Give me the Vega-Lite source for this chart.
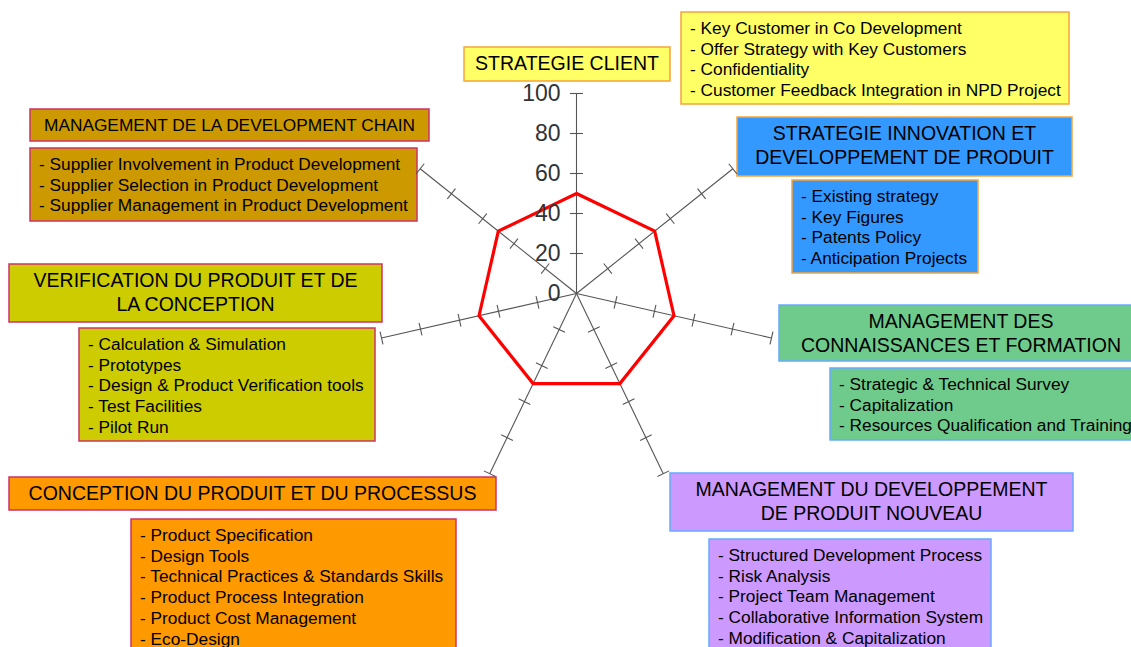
{
  "$schema": "https://vega.github.io/schema/vega-lite/v6.json",
  "width": 1131,
  "height": 647,
  "padding": 0,
  "autosize": {"type": "none"},
  "background": "white",
  "config": {"view": {"stroke": null}, "font": "Liberation Sans"},
  "datasets": {
    "axes": [
      {"k": 0, "axis": "STRATEGIE CLIENT", "value": 50, "ticks": [0, 20, 40, 60, 80, 100]},
      {"k": 1, "axis": "STRATEGIE INNOVATION ET DEVELOPPEMENT DE PRODUIT", "value": 50, "ticks": [0, 20, 40, 60, 80, 100]},
      {"k": 2, "axis": "MANAGEMENT DES CONNAISSANCES ET FORMATION", "value": 50, "ticks": [0, 20, 40, 60, 80, 100]},
      {"k": 3, "axis": "MANAGEMENT DU DEVELOPPEMENT DE PRODUIT NOUVEAU", "value": 50, "ticks": [0, 20, 40, 60, 80, 100]},
      {"k": 4, "axis": "CONCEPTION DU PRODUIT ET DU PROCESSUS", "value": 50, "ticks": [0, 20, 40, 60, 80, 100]},
      {"k": 5, "axis": "VERIFICATION DU PRODUIT ET DE LA CONCEPTION", "value": 50, "ticks": [0, 20, 40, 60, 80, 100]},
      {"k": 6, "axis": "MANAGEMENT DE LA DEVELOPMENT CHAIN", "value": 50, "ticks": [0, 20, 40, 60, 80, 100]}
    ],
    "boxes": [
      {"cat": "client", "kind": "h", "x1": -56.25, "x2": 46.75, "y1": 123.25, "y2": 106.25, "label": "STRATEGIE CLIENT"},
      {"cat": "client", "kind": "l", "x1": 52.25, "x2": 246.25, "y1": 140.75, "y2": 94.75, "label": "- Key Customer in Co Development\n- Offer Strategy with Key Customers\n- Confidentiality\n- Customer Feedback Integration in NPD Project"},
      {"cat": "chain", "kind": "h", "x1": -273.25, "x2": -73.75, "y1": 92.25, "y2": 76.25, "label": "MANAGEMENT DE LA DEVELOPMENT CHAIN"},
      {"cat": "chain", "kind": "l", "x1": -273.25, "x2": -79.75, "y1": 72.75, "y2": 36.25, "label": "- Supplier Involvement in Product Development\n- Supplier Selection in Product Development\n- Supplier Management in Product Development"},
      {"cat": "innovation", "kind": "h", "x1": 80.25, "x2": 247.75, "y1": 88.25, "y2": 58.75, "label": "STRATEGIE INNOVATION ET\nDEVELOPPEMENT DE PRODUIT"},
      {"cat": "innovation", "kind": "l", "x1": 107.75, "x2": 200.75, "y1": 56.75, "y2": 10.25, "label": "- Existing strategy\n- Key Figures\n- Patents Policy\n- Anticipation Projects"},
      {"cat": "verification", "kind": "h", "x1": -283.75, "x2": -97.25, "y1": 14.75, "y2": -14.25, "label": "VERIFICATION DU PRODUIT ET DE\nLA CONCEPTION"},
      {"cat": "verification", "kind": "l", "x1": -248.75, "x2": -100.75, "y1": -17.25, "y2": -73.75, "label": "- Calculation & Simulation\n- Prototypes\n- Design & Product Verification tools\n- Test Facilities\n- Pilot Run"},
      {"cat": "connaissances", "kind": "h", "x1": 101.25, "x2": 283.25, "y1": -5.75, "y2": -33.75, "label": "MANAGEMENT DES\nCONNAISSANCES ET FORMATION"},
      {"cat": "connaissances", "kind": "l", "x1": 126.75, "x2": 290, "y1": -37.25, "y2": -73.25, "label": "- Strategic & Technical Survey\n- Capitalization\n- Resources Qualification and Training"},
      {"cat": "conception", "kind": "h", "x1": -283.75, "x2": -40.25, "y1": -91.75, "y2": -108.25, "label": "CONCEPTION DU PRODUIT ET DU PROCESSUS"},
      {"cat": "conception", "kind": "l", "x1": -222.75, "x2": -60.25, "y1": -112.75, "y2": -190, "label": "- Product Specification\n- Design Tools\n- Technical Practices & Standards Skills\n- Product Process Integration\n- Product Cost Management\n- Eco-Design"},
      {"cat": "npd", "kind": "h", "x1": 46.75, "x2": 248.25, "y1": -89.75, "y2": -118.75, "label": "MANAGEMENT DU DEVELOPPEMENT\nDE PRODUIT NOUVEAU"},
      {"cat": "npd", "kind": "l", "x1": 66.25, "x2": 207.25, "y1": -122.75, "y2": -190, "label": "- Structured Development Process\n- Risk Analysis\n- Project Team Management\n- Collaborative Information System\n- Modification & Capitalization"}
    ]
  },
  "layer": [
    {
      "data": {"name": "boxes"},
      "mark": {"type": "rect", "strokeWidth": 1.5, "opacity": 1},
      "encoding": {
        "x": {"field": "x1", "type": "quantitative", "scale": {"domain": [-288.25, 277.25], "nice": false, "zero": false}, "axis": null},
        "x2": {"field": "x2"},
        "y": {"field": "y1", "type": "quantitative", "scale": {"domain": [-176.75, 146.75], "nice": false, "zero": false}, "axis": null},
        "y2": {"field": "y2"},
        "fill": {"field": "cat", "type": "nominal", "legend": null,
          "scale": {"domain": ["client", "innovation", "connaissances", "npd", "conception", "verification", "chain"],
                    "range": ["#ffff66", "#3399ff", "#6fcb8b", "#cc99ff", "#ff9900", "#cccc00", "#cc9900"]}},
        "stroke": {"field": "cat", "type": "nominal", "legend": null,
          "scale": {"domain": ["client", "innovation", "connaissances", "npd", "conception", "verification", "chain"],
                    "range": ["#f7a43a", "#f7a43a", "#66aaff", "#66aaff", "#cc3366", "#cc3366", "#cc3366"]}}
      }
    },
    {
      "data": {"name": "boxes"},
      "transform": [{"filter": "datum.kind === 'h'"}, {"calculate": "(datum.x1 + datum.x2) / 2", "as": "xc"}],
      "mark": {"type": "text", "align": "center", "baseline": "middle", "dy": 17, "lineBreak": "\n", "lineHeight": 24, "color": "#000000", "font": "Liberation Sans"},
      "encoding": {
        "x": {"field": "xc", "type": "quantitative", "scale": {"domain": [-288.25, 277.25], "nice": false, "zero": false}, "axis": null},
        "y": {"field": "y1", "type": "quantitative", "scale": {"domain": [-176.75, 146.75], "nice": false, "zero": false}, "axis": null},
        "text": {"field": "label"},
        "size": {"condition": {"test": "datum.cat === 'chain'", "value": 17.3}, "value": 19.5}
      }
    },
    {
      "data": {"name": "boxes"},
      "transform": [{"filter": "datum.kind === 'l'"}],
      "mark": {"type": "text", "align": "left", "baseline": "middle", "dx": 9, "dy": 17, "lineBreak": "\n", "lineHeight": 20.7, "fontSize": 17.3, "color": "#000000", "font": "Liberation Sans"},
      "encoding": {
        "x": {"field": "x1", "type": "quantitative", "scale": {"domain": [-288.25, 277.25], "nice": false, "zero": false}, "axis": null},
        "y": {"field": "y1", "type": "quantitative", "scale": {"domain": [-176.75, 146.75], "nice": false, "zero": false}, "axis": null},
        "text": {"field": "label"}
      }
    },
    {
      "data": {"name": "axes"},
      "transform": [
        {"calculate": "0", "as": "ox"},
        {"calculate": "0", "as": "oy"},
        {"calculate": "100 * sin(datum.k * 2 * PI / 7)", "as": "ex"},
        {"calculate": "100 * cos(datum.k * 2 * PI / 7)", "as": "ey"}
      ],
      "mark": {"type": "rule", "color": "#555555", "strokeWidth": 1.1},
      "encoding": {
        "x": {"field": "ox", "type": "quantitative", "scale": {"domain": [-288.25, 277.25], "nice": false, "zero": false}, "axis": null},
        "y": {"field": "oy", "type": "quantitative", "scale": {"domain": [-176.75, 146.75], "nice": false, "zero": false}, "axis": null},
        "x2": {"field": "ex"},
        "y2": {"field": "ey"}
      }
    },
    {
      "data": {"name": "axes"},
      "transform": [
        {"flatten": ["ticks"], "as": ["r"]},
        {"filter": "datum.r > 0"},
        {"calculate": "datum.k * 2 * PI / 7", "as": "t"},
        {"calculate": "datum.r * sin(datum.t) - 3.25 * cos(datum.t)", "as": "tx1"},
        {"calculate": "datum.r * cos(datum.t) + 3.25 * sin(datum.t)", "as": "ty1"},
        {"calculate": "datum.r * sin(datum.t) + 3.25 * cos(datum.t)", "as": "tx2"},
        {"calculate": "datum.r * cos(datum.t) - 3.25 * sin(datum.t)", "as": "ty2"}
      ],
      "mark": {"type": "rule", "color": "#555555", "strokeWidth": 1.1},
      "encoding": {
        "x": {"field": "tx1", "type": "quantitative", "scale": {"domain": [-288.25, 277.25], "nice": false, "zero": false}, "axis": null},
        "y": {"field": "ty1", "type": "quantitative", "scale": {"domain": [-176.75, 146.75], "nice": false, "zero": false}, "axis": null},
        "x2": {"field": "tx2"},
        "y2": {"field": "ty2"}
      }
    },
    {
      "data": {"name": "axes"},
      "transform": [
        {"calculate": "datum.value * sin(datum.k * 2 * PI / 7)", "as": "vx"},
        {"calculate": "datum.value * cos(datum.k * 2 * PI / 7)", "as": "vy"}
      ],
      "mark": {"type": "line", "color": "#ff0000", "strokeWidth": 3.2, "interpolate": "linear-closed"},
      "encoding": {
        "x": {"field": "vx", "type": "quantitative", "scale": {"domain": [-288.25, 277.25], "nice": false, "zero": false}, "axis": null},
        "y": {"field": "vy", "type": "quantitative", "scale": {"domain": [-176.75, 146.75], "nice": false, "zero": false}, "axis": null},
        "order": {"field": "k", "type": "quantitative"}
      }
    },
    {
      "data": {"name": "axes"},
      "transform": [
        {"filter": "datum.k === 0"},
        {"flatten": ["ticks"], "as": ["r"]},
        {"calculate": "0", "as": "ox"}
      ],
      "mark": {"type": "text", "align": "right", "baseline": "middle", "dx": -16, "fontSize": 23, "color": "#333333", "font": "Liberation Sans"},
      "encoding": {
        "x": {"field": "ox", "type": "quantitative", "scale": {"domain": [-288.25, 277.25], "nice": false, "zero": false}, "axis": null},
        "y": {"field": "r", "type": "quantitative", "scale": {"domain": [-176.75, 146.75], "nice": false, "zero": false}, "axis": null},
        "text": {"field": "r", "type": "quantitative"}
      }
    }
  ]
}
